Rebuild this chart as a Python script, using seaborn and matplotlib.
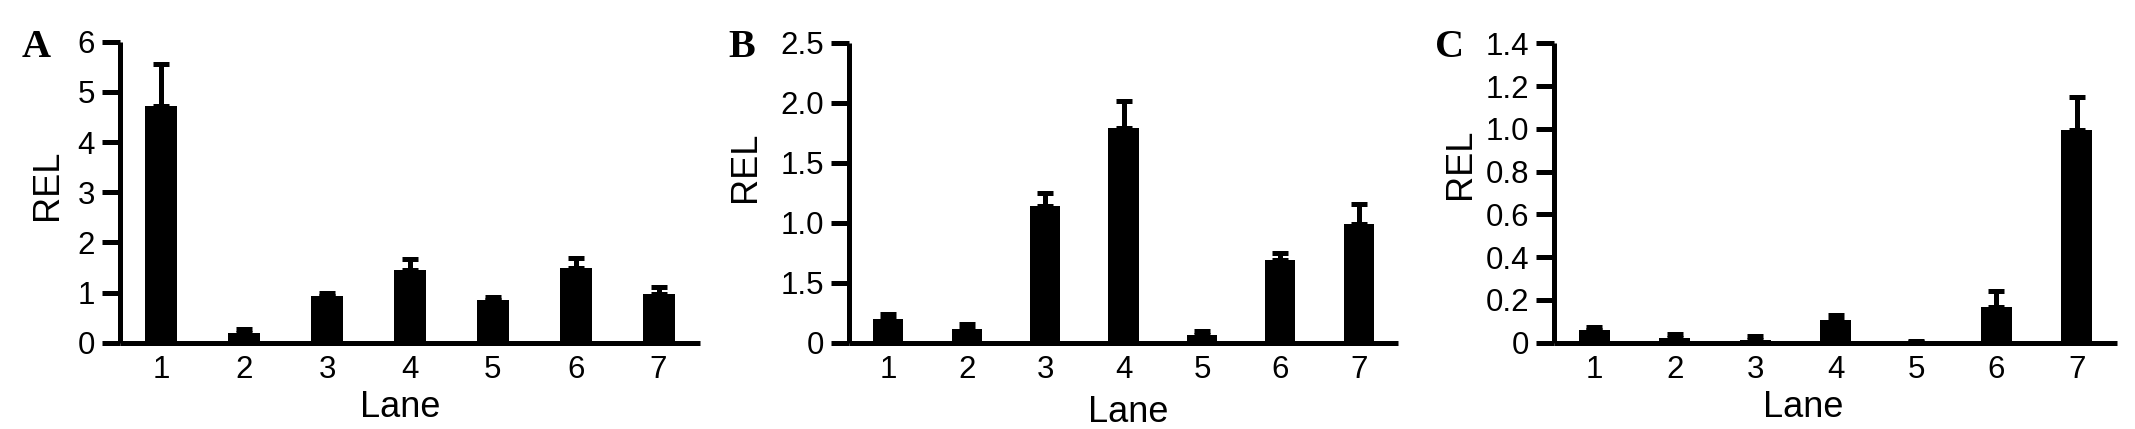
import matplotlib
matplotlib.use('Agg')
import matplotlib.pyplot as plt
import seaborn as sns
import numpy as np


# Data
lanes = ['1', '2', '3', '4', '5', '6', '7']

rel_a = [4.71, 0.20, 0.93, 1.45, 0.85, 1.48, 0.98]
err_a = [0.84, 0.07, 0.06, 0.22, 0.06, 0.21, 0.13]

rel_b = [0.20, 0.117, 1.14, 1.79, 0.067, 0.69, 0.99]
err_b = [0.037, 0.036, 0.11, 0.22, 0.031, 0.06, 0.17]

rel_c = [0.058, 0.023, 0.011, 0.105, 0.003, 0.167, 0.996]
err_c = [0.016, 0.016, 0.02, 0.023, 0.007, 0.075, 0.154]

ticks_a = [0, 1, 2, 3, 4, 5, 6]
ticklabels_a = ['0', '1', '2', '3', '4', '5', '6']
ticks_b = [0, 0.5, 1.0, 1.5, 2.0, 2.5]
ticklabels_b = ['0', '1.5', '1.0', '1.5', '2.0', '2.5']
ticks_c = [0, 0.2, 0.4, 0.6, 0.8, 1.0, 1.2, 1.4]
ticklabels_c = ['0', '0.2', '0.4', '0.6', '0.8', '1.0', '1.2', '1.4']

panel_letters = ['A', 'B', 'C']


# Config
W, H, DPI = 2135, 429, 100
LW = 3.6            # axis / error bar line width in points (~5 px)
TICK_SIZE = 22.5
LABEL_SIZE = 26
BAR_WIDTH = 0.385

sns.set_style('ticks')
plt.rcParams['font.family'] = ['Liberation Sans', 'DejaVu Sans']

fig = plt.figure(figsize=(W / DPI, H / DPI), dpi=DPI)

# axes boxes in pixels: left, right, top (y of top tick), zero line y
boxes = [(120, 700, 41.7, 342.7), (849, 1398, 42.7, 342.7), (1554, 2117, 43.3, 342.7)]
ylabel_pos = [(-0.125, 0.525), (-0.188, 0.585), (-0.166, 0.597)]
xlabel_pos = [(0.483, -0.247), (0.508, -0.265), (0.442, -0.248)]
letter_x = [22, 728, 1435]

panels = [
  (rel_a, err_a, ticks_a, ticklabels_a, 6),
  (rel_b, err_b, ticks_b, ticklabels_b, 2.5),
  (rel_c, err_c, ticks_c, ticklabels_c, 1.4),
]

for i, (vals, errs, ticks, labels, ymax) in enumerate(panels):
  left, right, top, zero = boxes[i]
  ax = fig.add_axes([left / W, (H - zero) / H, (right - left) / W, (zero - top) / H])

  sns.barplot(x=lanes, y=vals, color='black', width=BAR_WIDTH, errorbar=None,
              saturation=1, edgecolor='black', linewidth=0, ax=ax)
  ax.errorbar(np.arange(len(lanes)), vals, yerr=[np.zeros(len(vals)), errs],
              fmt='none', ecolor='black', elinewidth=LW, capsize=6, capthick=LW)

  ax.set_xlim(-0.5, len(lanes) - 0.5)
  ax.set_ylim(0, ymax)
  ax.set_yticks(ticks)
  ax.set_yticklabels(labels)

  sns.despine(ax=ax)
  for side in ['left', 'bottom']:
    ax.spines[side].set_linewidth(LW)
    ax.spines[side].set_color('black')
    ax.spines[side].set_capstyle('butt')

  ax.tick_params(axis='y', length=13, width=LW, color='black', pad=5,
                 labelsize=TICK_SIZE, labelcolor='black')
  ax.tick_params(axis='x', length=0, pad=9, labelsize=TICK_SIZE, labelcolor='black')

  ax.set_xlabel('Lane', fontsize=LABEL_SIZE, color='black')
  ax.set_ylabel('REL', fontsize=LABEL_SIZE, color='black')
  ax.xaxis.set_label_coords(*xlabel_pos[i])
  ax.yaxis.set_label_coords(*ylabel_pos[i])
  ax.xaxis.label.set_va('baseline')
  ax.yaxis.label.set_va('center')

  fig.text(letter_x[i] / W, (H - 57) / H, panel_letters[i], fontsize=29,
           fontweight='bold', family=['Liberation Serif', 'DejaVu Serif'],
           ha='left', va='baseline', color='black')

plt.savefig('out.png', dpi=DPI, facecolor='white')
